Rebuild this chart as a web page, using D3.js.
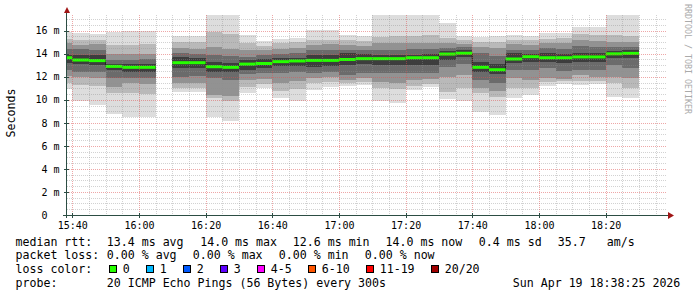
<!DOCTYPE html>
<html>
<head>
<meta charset="utf-8">
<script src="https://cdn.jsdelivr.net/npm/d3@7"></script>
<style>
  body { margin: 0; background: #fff; }
  text { font-family: "DejaVu Sans Mono", monospace; }
</style>
</head>
<body>
<div id="chart"></div>
<script>
// 5 minute steps, time = end of the interval (rrd style)
const times = ['15:40', '15:45', '15:50', '15:55', '16:00', '16:05', '16:10', '16:15', '16:20', '16:25',
  '16:30', '16:35', '16:40', '16:45', '16:50', '16:55', '17:00', '17:05', '17:10', '17:15',
  '17:20', '17:25', '17:30', '17:35', '17:40', '17:45', '17:50', '17:55', '18:00', '18:05',
  '18:10', '18:15', '18:20', '18:25', '18:30'];

// median rtt in ms, null = no data
const median = [13.65, 13.45, 13.4, 12.9, 12.82, 12.82, null, 13.22, 13.22, 12.87,
  12.82, 13.1, 13.15, 13.31, 13.37, 13.42, 13.42, 13.5, 13.57, 13.57,
  13.57, 13.65, 13.65, 13.97, 14.04, 12.82, 12.61, 13.54, 13.74, 13.65,
  13.65, 13.72, 13.72, 13.99, 14.03];

// smoke: 5 low edges then 5 high edges (ms), outermost pair first / last
const smoke = [
  [10.9, 11.5, 12.1, 12.6, 13.2, 13.9, 14.4, 14.9, 15.3, 15.85],
  [9.9, 11.28, 11.98, 12.41, 13.11, 13.89, 14.41, 14.76, 15.19, 15.77],
  [9.55, 11.2, 11.9, 12.4, 13.05, 13.85, 14.35, 14.8, 15.2, 15.7],
  [8.74, 10.56, 11.14, 11.87, 12.59, 13.1, 13.45, 14.0, 14.76, 15.9],
  [8.53, 10.56, 11.43, 11.87, 12.44, 13.1, 13.45, 14.0, 14.76, 16.0],
  [8.5, 10.5, 11.4, 11.9, 12.4, 13.1, 13.5, 14.0, 14.8, 16.0],
  null,
  [10.7, 11.0, 11.43, 12.0, 12.75, 13.7, 14.04, 14.47, 15.04, 15.5],
  [10.7, 11.05, 11.5, 12.05, 12.8, 13.65, 14.0, 14.45, 15.0, 15.5],
  [8.53, 10.13, 10.42, 11.87, 12.44, 13.3, 13.9, 14.6, 15.9, 18.0],
  [8.19, 9.9, 10.3, 11.7, 12.4, 13.2, 13.8, 14.4, 15.7, 18.0],
  [10.56, 11.14, 11.72, 12.24, 12.59, 13.45, 13.74, 14.3, 14.9, 15.6],
  [11.0, 11.4, 11.8, 12.3, 12.8, 13.5, 13.9, 14.3, 14.7, 15.1],
  [10.13, 10.8, 11.5, 12.3, 12.9, 13.6, 14.0, 14.45, 14.9, 15.25],
  [9.92, 10.9, 11.6, 12.4, 12.95, 13.65, 14.05, 14.5, 15.0, 15.4],
  [10.85, 11.43, 11.87, 12.3, 12.87, 13.9, 14.3, 14.76, 15.19, 16.06],
  [11.1, 11.55, 12.0, 12.4, 12.95, 13.9, 14.35, 14.8, 15.2, 16.1],
  [11.2, 11.5, 11.72, 12.15, 13.02, 14.04, 14.3, 14.76, 15.2, 15.6],
  [11.28, 11.55, 11.9, 12.3, 13.1, 13.95, 14.3, 14.7, 15.1, 15.5],
  [9.92, 11.0, 11.57, 12.3, 13.02, 13.89, 14.32, 14.9, 15.48, 18.2],
  [9.7, 10.9, 11.5, 12.3, 13.0, 13.9, 14.35, 14.9, 15.5, 18.2],
  [10.85, 11.2, 11.72, 12.3, 13.02, 13.89, 14.38, 14.9, 15.5, 18.0],
  [11.08, 11.4, 11.8, 12.3, 13.0, 13.95, 14.4, 14.9, 15.6, 18.0],
  [10.04, 10.7, 12.0, 12.87, 13.45, 14.25, 14.5, 14.9, 15.34, 16.64],
  [9.9, 11.0, 12.15, 13.1, 13.7, 14.3, 14.55, 14.8, 15.2, 15.54],
  [8.97, 10.56, 11.0, 11.72, 12.44, 13.31, 14.04, 14.6, 15.04, 15.48],
  [8.68, 10.2, 10.8, 11.5, 12.2, 13.1, 13.8, 14.5, 15.0, 15.5],
  [10.13, 11.0, 11.87, 12.59, 13.17, 14.04, 14.3, 14.8, 15.2, 15.6],
  [10.42, 11.0, 11.72, 12.59, 13.31, 14.0, 14.3, 14.76, 15.2, 15.55],
  [11.2, 11.57, 11.87, 12.73, 13.31, 14.09, 14.47, 14.9, 15.3, 15.77],
  [11.37, 11.6, 11.8, 12.5, 13.2, 14.0, 14.45, 14.9, 15.4, 15.8],
  [11.28, 11.66, 12.15, 12.6, 13.3, 14.1, 14.67, 15.19, 15.7, 16.3],
  [11.35, 11.6, 12.0, 12.6, 13.3, 14.1, 14.6, 15.1, 15.6, 16.3],
  [10.27, 11.49, 12.0, 13.0, 13.6, 14.26, 14.6, 15.04, 15.6, 18.0],
  [10.13, 11.0, 11.9, 12.8, 13.6, 14.3, 14.6, 15.0, 15.5, 18.0]
];

const yTicks = [0, 2, 4, 6, 8, 10, 12, 14, 16];
const rttItems = ['13.4 ms avg', '14.0 ms max', '12.6 ms min', '14.0 ms now', '0.4 ms sd', '35.7', 'am/s'];
const lossItems = ['0.00 % avg', '0.00 % max', '0.00 % min', '0.00 % now'];
const lossLabels = ['0', '1', '2', '3', '4-5', '6-10', '11-19', '20/20'];
const lossColors = ['#26ff00', '#00b8ff', '#0059ff', '#5e00ff', '#ff00ff', '#ff5500', '#ff0000', '#a00000'];
const probeText = '20 ICMP Echo Pings (56 Bytes) every 300s';
const stampText = 'Sun Apr 19 18:38:25 2026';

const day = s => {
  const p = s.split(':').map(Number);
  return new Date(2026, 3, 19, p[0], p[1], p[2] || 0);
};
const start = day('15:38:25'), end = day('18:38:25');

const width = 697, height = 297;
const pLeft = 67, pRight = 667, pTop = 15, pBottom = 215;

const x = d3.scaleTime().domain([start, end]).range([pLeft, pRight]);
const y = d3.scaleLinear().domain([0, 17.36]).range([pBottom, pTop]);

const svg = d3.select('#chart').append('svg')
    .attr('width', width)
    .attr('height', height);

svg.append('clipPath').attr('id', 'plot')
  .append('rect')
    .attr('x', pLeft).attr('y', pTop)
    .attr('width', pRight - pLeft).attr('height', pBottom - pTop);

// columns
const cols = times.map((t, i) => {
  let t1 = day(t);
  let t0 = new Date(Math.max(+t1 - 300000, +start));
  return { t0, t1, m: median[i], s: smoke[i] };
});

const shades = ['#dddddd', '#b9b9b9', '#929292', '#6b6b6b', '#3d3d3d'];
const bands = [];
cols.forEach(c => {
  if (!c.s) return;
  for (let k = 0; k < 5; k++) {
    bands.push({ t0: c.t0, t1: c.t1, lo: c.s[k], hi: c.s[9 - k], k });
  }
});

const plot = svg.append('g').attr('clip-path', 'url(#plot)');

plot.selectAll('rect.smoke')
  .data(bands)
  .join('rect')
    .attr('class', 'smoke')
    .attr('x', d => x(d.t0))
    .attr('width', d => x(d.t1) - x(d.t0))
    .attr('y', d => y(d.hi))
    .attr('height', d => y(d.lo) - y(d.hi))
    .attr('fill', d => shades[d.k])
    .attr('shape-rendering', 'crispEdges');

// thin dark step line under the median
const pts = [];
cols.forEach(c => {
  pts.push({ t: c.t0, m: c.m });
  pts.push({ t: c.t1, m: c.m });
});
plot.append('path')
  .datum(pts)
  .attr('fill', 'none')
  .attr('stroke', '#202020')
  .attr('stroke-width', 1)
  .attr('d', d3.line().defined(d => d.m != null).x(d => x(d.t)).y(d => y(d.m)));

plot.selectAll('line.med')
  .data(cols.filter(c => c.m != null))
  .join('line')
    .attr('class', 'med')
    .attr('x1', d => x(d.t0))
    .attr('x2', d => x(d.t1))
    .attr('y1', d => y(d.m))
    .attr('y2', d => y(d.m))
    .attr('stroke', lossColors[0])
    .attr('stroke-width', 3);

// grid on top of the smoke
const grid = svg.append('g').attr('shape-rendering', 'crispEdges').attr('stroke-dasharray', '1,1');
const minorY = d3.range(0.5, 17.36, 0.5).filter(v => v % 2 !== 0);
const minorX = d3.timeMinute.every(5).range(start, end).filter(d => d.getMinutes() % 20 !== 0);
const majorX = d3.timeMinute.every(20).range(start, end);

grid.selectAll('line.hy').data(minorY).join('line')
  .attr('x1', pLeft).attr('x2', pRight)
  .attr('y1', d => Math.round(y(d)) + 0.5).attr('y2', d => Math.round(y(d)) + 0.5)
  .attr('stroke', 'rgba(143,143,143,0.4)');
grid.selectAll('line.vx').data(minorX).join('line')
  .attr('y1', pTop).attr('y2', pBottom)
  .attr('x1', d => Math.round(x(d)) + 0.5).attr('x2', d => Math.round(x(d)) + 0.5)
  .attr('stroke', 'rgba(143,143,143,0.4)');
grid.selectAll('line.my').data(yTicks.slice(1)).join('line')
  .attr('x1', pLeft).attr('x2', pRight)
  .attr('y1', d => Math.round(y(d)) + 0.5).attr('y2', d => Math.round(y(d)) + 0.5)
  .attr('stroke', 'rgba(222,80,80,0.5)');
grid.selectAll('line.mx').data(majorX).join('line')
  .attr('y1', pTop).attr('y2', pBottom)
  .attr('x1', d => Math.round(x(d)) + 0.5).attr('x2', d => Math.round(x(d)) + 0.5)
  .attr('stroke', 'rgba(222,80,80,0.5)');

// axes
const axisColor = '#2c4d43', arrowColor = '#a01515';
const ax = svg.append('g').attr('shape-rendering', 'crispEdges');
ax.append('line').attr('x1', 63).attr('x2', 670).attr('y1', pBottom + 0.5).attr('y2', pBottom + 0.5)
  .attr('stroke', axisColor);
ax.append('line').attr('x1', pLeft - 0.5).attr('x2', pLeft - 0.5).attr('y1', pBottom + 3).attr('y2', 11)
  .attr('stroke', axisColor);
ax.selectAll('line.tx').data(majorX).join('line')
  .attr('x1', d => Math.round(x(d)) + 0.5).attr('x2', d => Math.round(x(d)) + 0.5)
  .attr('y1', pBottom - 2).attr('y2', pBottom + 3).attr('stroke', axisColor);
ax.selectAll('line.ty').data(yTicks).join('line')
  .attr('x1', pLeft - 3).attr('x2', pLeft + 2)
  .attr('y1', d => Math.round(y(d)) + 0.5).attr('y2', d => Math.round(y(d)) + 0.5)
  .attr('stroke', axisColor);
svg.append('path').attr('d', 'M64,13L70,13L67,7Z').attr('fill', arrowColor);
svg.append('path').attr('d', 'M668,212L668,219L674,215.5Z').attr('fill', arrowColor);

const xAxis = d3.axisBottom(x)
  .ticks(d3.timeMinute.every(20))
  .tickFormat(d3.timeFormat('%H:%M'))
  .tickSize(0).tickPadding(7);
const gx = svg.append('g').attr('transform', `translate(0,${pBottom})`).call(xAxis);
gx.select('.domain').remove();
gx.selectAll('text').attr('font-family', '"DejaVu Sans Mono", monospace').attr('font-size', 10).attr('fill', '#000');

const yAxis = d3.axisLeft(y)
  .tickValues(yTicks)
  .tickFormat(d => d === 0 ? '0' : d + ' m')
  .tickSize(0).tickPadding(7.5);
const gy = svg.append('g').attr('transform', `translate(${pLeft},0)`).call(yAxis);
gy.select('.domain').remove();
gy.selectAll('text').attr('font-family', '"DejaVu Sans Mono", monospace').attr('font-size', 10).attr('fill', '#000');
gy.selectAll('text').filter(d => d === 0).attr('x', -19.5);

svg.append('text')
  .attr('transform', 'translate(15.3,113) rotate(-90)')
  .attr('text-anchor', 'middle')
  .attr('font-size', 11.6)
  .text('Seconds');

svg.append('text')
  .attr('transform', 'translate(685,4) rotate(90)')
  .attr('font-size', 8.3)
  .attr('fill', '#aaaaaa')
  .text('RRDTOOL / TOBI OETIKER');

// legend
const lg = svg.append('g').attr('font-size', 11.6).attr('fill', '#000');
const put = (xx, yy, s) => lg.append('text').attr('x', xx).attr('y', yy).text(s);

put(15.5, 245.7, 'median rtt:');
[106.8, 200.2, 292.8, 385.5, 478.8, 557.8, 606.8].forEach((xx, i) => put(xx, 245.7, rttItems[i]));

put(15.5, 259.3, 'packet loss:');
[106.8, 192.8, 278.8, 364.8].forEach((xx, i) => put(xx, 259.3, lossItems[i]));

put(15.5, 273.3, 'loss color:');
let bx = 108.7;
lossLabels.forEach((l, i) => {
  lg.append('rect')
    .attr('x', Math.round(bx) + 0.5).attr('y', 265.5)
    .attr('width', 7).attr('height', 7)
    .attr('fill', lossColors[i])
    .attr('stroke', '#000');
  put(bx + 14, 273.3, l);
  bx += 30 + 7 * l.length;
});

put(15.5, 286.8, 'probe:');
put(106.8, 286.8, probeText);
put(512.8, 286.8, stampText);
</script>
</body>
</html>
